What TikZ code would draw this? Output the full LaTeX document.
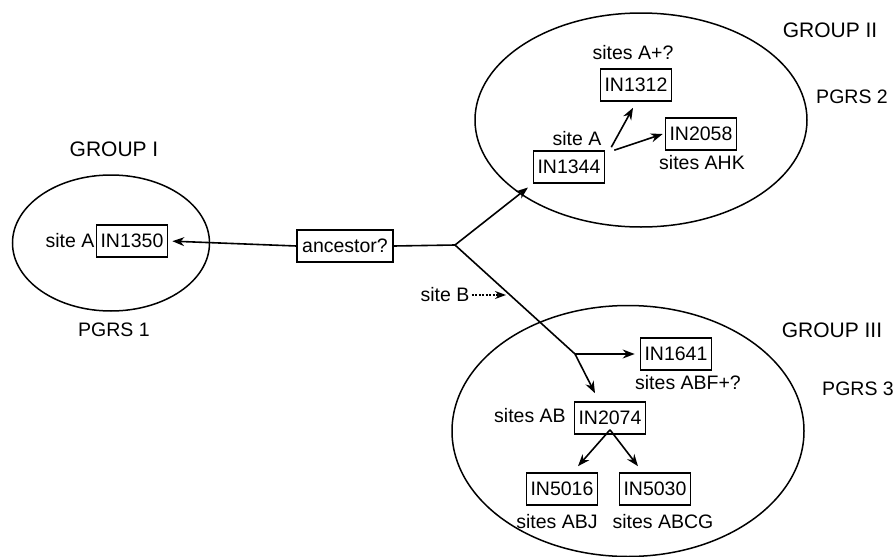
\documentclass[tikz,border=0pt]{standalone}
\usepackage{fontspec}
\setmainfont{Liberation Sans}
\usetikzlibrary{shapes.geometric,arrows.meta,calc}
\begin{document}
\begin{tikzpicture}[x=1pt,y=-1pt,
  every node/.style={font=\fontsize{19.5}{23}\selectfont},
  box/.style={draw,line width=1.6pt,inner xsep=3pt,inner ysep=3pt,minimum height=32pt,minimum width=71pt},
  lbl/.style={inner sep=0pt},
  grp/.style={inner sep=0pt,font=\fontsize{21}{25}\selectfont},
  oval/.style={ellipse,draw,line width=1.5pt,inner sep=0pt},
  arr/.style={line width=1.6pt,-{Stealth[length=12pt,width=9pt]}},
  ln/.style={line width=1.6pt}]
\useasboundingbox (0,0) rectangle (895,557);
% ellipses
\node[oval,minimum width=197pt,minimum height=136pt] (g1) at (111,243) {};
\node[oval,minimum width=332pt,minimum height=214pt] (g2) at (641,120) {};
\node[oval,minimum width=352pt,minimum height=251pt] (g3) at (628,431) {};
% group labels
\node[grp] (lg1) at (114,149) {GROUP I};
\node[lbl] (p1) at (114,330) {PGRS 1};
\node[grp] (lg2) at (830,30) {GROUP II};
\node[lbl] (p2) at (852,97) {PGRS 2};
\node[grp] (lg3) at (832,330) {GROUP III};
\node[lbl] (p3) at (858,389) {PGRS 3};
% boxes
\node[box] (n1350) at (132,241) {IN1350};
\node[lbl] (s1350) at (70,241) {site A};
\node[box,inner xsep=5pt] (anc) at (345,246) {ancestor?};
\node[box] (n1344) at (569,167) {IN1344};
\node[lbl] (s1344) at (577,139) {site A};
\node[box] (n1312) at (636,85) {IN1312};
\node[lbl] (s1312) at (633,53) {sites A+?};
\node[box] (n2058) at (701,134) {IN2058};
\node[lbl] (s2058) at (702,163) {sites AHK};
\node[box] (n1641) at (676,354) {IN1641};
\node[lbl] (s1641) at (688,383) {sites ABF+?};
\node[box] (n2074) at (610,418) {IN2074};
\node[lbl] (s2074) at (530,416) {sites AB};
\node[box] (n5016) at (562,489) {IN5016};
\node[lbl] (s5016) at (557,522) {sites ABJ};
\node[box] (n5030) at (655,489) {IN5030};
\node[lbl] (s5030) at (663,522) {sites ABCG};
\node[lbl] (sb) at (445,295) {site B};
% junctions
\coordinate (j) at (455,245);
\coordinate (k) at (575,354);
% connectors
\draw[arr,shorten >=4pt] (anc.west) -- (n1350.east);
\draw[ln] (anc.east) -- (j);
\draw[arr,shorten >=6pt] (j) -- (n1344.south west);
\draw[ln] (j) -- (k);
\draw[arr] ([shift={(6,-3)}]n1344.north east) -- ([shift={(-3,6)}]n1312.south);
\draw[arr] ([shift={(9,0)}]n1344.north east) -- ([xshift=-2pt]n2058.west);
\draw[arr] (k) -- ([xshift=-5pt]n1641.west);
\draw[arr] (k) -- ([shift={(-15,-8)}]n2074.north);
\draw[arr] ([yshift=5]n2074.south) -- ([shift={(16,-6)}]n5016.north);
\draw[arr] ([yshift=5]n2074.south) -- ([shift={(-17,-6)}]n5030.north);
\coordinate (sbend) at (506,295);
\draw[line width=1.5pt,dash pattern=on 2pt off 1.5pt,-{Stealth[length=11pt,width=8pt]}] ([xshift=2pt]sb.east) -- (sbend);
\end{tikzpicture}
\end{document}
